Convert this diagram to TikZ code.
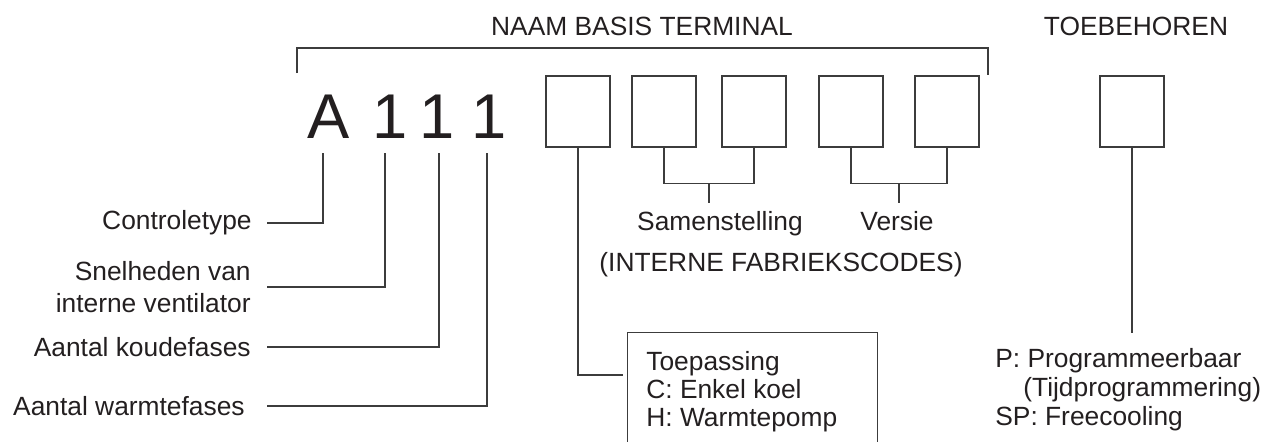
\documentclass[tikz,border=0pt]{standalone}
\usepackage{fontspec}
\setmainfont{Liberation Sans}
\usetikzlibrary{calc}
\definecolor{inkgray}{RGB}{35,31,32}
\definecolor{linegray}{RGB}{60,60,60}
\tikzset{
  lbl/.style={font=\fontsize{15}{17}\selectfont, text=inkgray, inner sep=0pt},
  bigchar/.style={font=\fontsize{36}{40}\selectfont, text=inkgray, inner sep=0pt, anchor=base},
  codebox/.style={draw=linegray, line width=0.6pt, minimum width=1.28cm, minimum height=1.42cm, inner sep=0pt},
  lead/.style={draw=linegray, line width=0.6pt}
}
\begin{document}
\begin{tikzpicture}[x=0.02cm, y=-0.02cm]
\clip (0,0) rectangle (1268,441);
% headings
\node[lbl, anchor=base] (naam) at (642,35) {NAAM BASIS TERMINAL};
\node[lbl, anchor=base] (toeb) at (1136,35) {TOEBEHOREN};
\coordinate (brL) at (297,73);
\coordinate (brR) at (988,75);
\draw[lead] (brL) -- ++(0,-25) -| (brR);
% code characters
\node[bigchar] (lA) at (329,138) {A};
\node[bigchar] (l1) at (390,138) {1};
\node[bigchar] (l2) at (437,138) {1};
\node[bigchar] (l3) at (489,138) {1};
% code boxes
\node[codebox] (b1) at (578,111.5) {};
\node[codebox] (b2) at (664,111.5) {};
\node[codebox] (b3) at (754,111.5) {};
\node[codebox] (b4) at (851,111.5) {};
\node[codebox] (b5) at (947,111.5) {};
\node[codebox] (b6) at (1132,111.5) {};
% left labels
\node[lbl, anchor=east] (ctrl) at (252,223) {Controletype};
\node[lbl, anchor=east, align=right, font=\fontsize{15}{18}\selectfont] (snel) at (251,287) {Snelheden van\\interne ventilator};
\node[lbl, anchor=east] (koud) at (251,347) {Aantal koudefases};
\node[lbl, anchor=east] (warm) at (245,406) {Aantal warmtefases};
\draw[lead] ($(lA.south)+(-6,15)$) |- ($(ctrl.east)+(15,0)$);
\draw[lead] ($(l1.south)+(-5,15)$) |- ($(snel.east)+(16,0)$);
\draw[lead] ($(l2.south)+(2,15)$) |- ($(koud.east)+(16,0)$);
\draw[lead] ($(l3.south)+(-2,15)$) |- ($(warm.east)+(22,0)$);
% internal codes
\draw[lead] (b2.south) -- ++(0,36) -| (b3.south);
\draw[lead] ($(b2.south)!0.5!(b3.south)+(0,36)$) -- ++(0,19);
\draw[lead] (b4.south) -- ++(0,36) -| (b5.south);
\draw[lead] ($(b4.south)!0.5!(b5.south)+(0,36)$) -- ++(0,19);
\node[lbl, anchor=base] (sam) at (720,230) {Samenstelling};
\node[lbl, anchor=base] (ver) at (897,230) {Versie};
\node[lbl, anchor=base] (fab) at (781,271) {(INTERNE FABRIEKSCODES)};
% application
\node[draw=linegray, line width=0.6pt, anchor=north west, minimum width=5cm, minimum height=3cm, inner sep=0pt] (toep) at (627,332) {};
\node[lbl, anchor=north west, align=left, font=\fontsize{15}{16}\selectfont] (toeptxt) at ($(toep.north west)+(19,19)$) {Toepassing\\C: Enkel koel\\H: Warmtepomp};
\draw[lead] (b1.south) |- ($(toep.north west)+(-4,43)$);
% accessories
\node[lbl, anchor=north west, align=left, font=\fontsize{15}{16.5}\selectfont] (acc) at (995,348) {P: Programmeerbaar\\\hspace*{0.56cm}(Tijdprogrammering)\\SP: Freecooling};
\draw[lead] (b6.south) -- ($(acc.north -| b6.south)+(0,-15)$);
\end{tikzpicture}
\end{document}
